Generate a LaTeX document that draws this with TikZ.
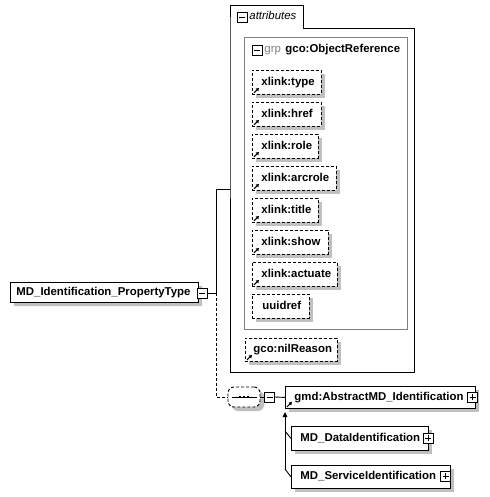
\documentclass[tikz,border=0pt]{standalone}
\usepackage{fontspec}
\setmainfont{Liberation Sans}
\usetikzlibrary{shapes.misc,shadows,arrows.meta,calc}
\definecolor{shgray}{RGB}{192,192,192}
\definecolor{grpgray}{RGB}{128,128,128}
\newcommand\refmark[1]{\draw[refarr] ($(#1.south west)+(2,-2)$) -- ++(5,-5);}
\begin{document}
\begin{tikzpicture}[x=1pt,y=-1pt,line width=0.9pt,
 font=\fontsize{11.4}{13}\selectfont\bfseries,
 shad/.style={drop shadow={shadow xshift=4pt,shadow yshift=-4pt,fill=shgray,opacity=1}},
 attr/.style={draw,dash pattern=on 3pt off 2pt,fill=white,minimum height=24,inner sep=0,anchor=north west,shad},
 elem/.style={draw,fill=white,minimum height=23,inner sep=0,anchor=north west,shad},
 lbl/.style={anchor=west,inner sep=0,text height=8,text depth=2},
 minus/.style={draw,fill=white,minimum size=10,inner sep=0,path picture={\draw ([xshift=2pt]path picture bounding box.west) -- ([xshift=-2pt]path picture bounding box.east);}},
 plus/.style={draw,fill=white,minimum size=10,inner sep=0,path picture={\draw ([xshift=2pt]path picture bounding box.west) -- ([xshift=-2pt]path picture bounding box.east); \draw ([yshift=2pt]path picture bounding box.south) -- ([yshift=-2pt]path picture bounding box.north);}},
 refarr/.style={line width=1pt,-{Triangle[length=3pt,width=3.5pt]}}
]
\useasboundingbox (0,0) rectangle (489,497);

% attributes container
\draw[fill=white] (230,28) -- (230,5) -- (303,5) -- (303,28) -- (414,28) -- (414,372) -- (230,372) -- cycle;
\node[minus] (amin) at (242,17.5) {};
\node[lbl,font=\fontsize{11.4}{13}\selectfont\itshape] (atxt) at (249,17) {attributes};
\coordinate (attrL) at (230,189);

% group box
\draw[grpgray] (244,37) rectangle (407,329);
\node[minus] (gmin) at (257,50) {};
\node[lbl,font=\fontsize{11.4}{13}\selectfont,text=grpgray] (gtxt) at (264,49.5) {grp};
\node[lbl] (gname) at (285,49.5) {gco:ObjectReference};

% attributes
\node[attr,minimum width=69] (type) at (252,70) {};
\node[lbl] (typet) at ([xshift=9pt]type.west) {xlink:type};
\refmark{type}
\node[attr,minimum width=69] (href) at (252,102) {};
\node[lbl] (hreft) at ([xshift=9pt]href.west) {xlink:href};
\refmark{href}
\node[attr,minimum width=66] (role) at (252,134) {};
\node[lbl] (rolet) at ([xshift=9pt]role.west) {xlink:role};
\refmark{role}
\node[attr,minimum width=84] (arcrole) at (252,166) {};
\node[lbl] (arcrolet) at ([xshift=9pt]arcrole.west) {xlink:arcrole};
\refmark{arcrole}
\node[attr,minimum width=66] (title) at (252,198) {};
\node[lbl] (titlet) at ([xshift=9pt]title.west) {xlink:title};
\refmark{title}
\node[attr,minimum width=76] (show) at (252,230) {};
\node[lbl] (showt) at ([xshift=9pt]show.west) {xlink:show};
\refmark{show}
\node[attr,minimum width=85] (actuate) at (252,262) {};
\node[lbl] (actuatet) at ([xshift=9pt]actuate.west) {xlink:actuate};
\refmark{actuate}
\node[attr,minimum width=57] (uuid) at (252,294) {};
\node[lbl] (uuidt) at ([xshift=10pt]uuid.west) {uuidref};
\node[attr,minimum width=92,minimum height=23] (nil) at (245,338) {};
\node[lbl] (nilt) at ([xshift=8pt]nil.west) {gco:nilReason};
\refmark{nil}

% main element
\node[draw,fill=white,chamfered rectangle,chamfered rectangle corners={north west,south west},
      chamfered rectangle xsep=3.5pt,chamfered rectangle ysep=3.5pt,
      minimum width=188,minimum height=20,inner sep=0,shad] (main) at (104,292) {};
\node[lbl] (maint) at (16,292) {MD\_Identification\_PropertyType};
\node[minus] (mmin) at (202,293) {};

% sequence
\node[draw,dash pattern=on 3pt off 2pt,fill=white,rectangle,rounded corners=6pt,
      minimum width=32,minimum height=20,inner sep=0,shad] (seq) at (244,397) {};
\draw[line width=0.9pt] (232,397) -- (257,397);
\foreach \px in {240,244,248} \fill (\px-1.4,397-1.4) rectangle (\px+1.4,397+1.4);
\node[minus] (smin) at (269.5,397) {};

% elements
\node[elem,minimum width=190,minimum height=22] (abs) at (285,386) {};
\node[lbl] (abst) at (294,397) {gmd:AbstractMD\_Identification};
\refmark{abs}
\node[plus] (absp) at (472.5,397) {};
\node[elem,minimum width=137,minimum height=24] (data) at (291,426) {};
\node[lbl] (datat) at (300,438) {MD\_DataIdentification};
\node[plus] (datap) at (428,438) {};
\node[elem,minimum width=159,minimum height=23] (serv) at (291,465) {};
\node[lbl] (servt) at (300,476.5) {MD\_ServiceIdentification};
\node[plus] (servp) at (445.5,476) {};

% connectors
\coordinate (j) at (216,293);
\draw (mmin.east) -- (j) |- (attrL);
\draw[dash pattern=on 3pt off 2pt] (j) |- (seq.west);
\draw (seq.east) -- (smin.west);
\draw (smin.east) -- (abs.west);
\coordinate (vb) at (285,469);
\coordinate (vt) at (285,412);
\draw[-{Triangle[length=5pt,width=4.5pt]}] (vb) -- (vt);
\coordinate (d1) at (285,431);
\coordinate (d2) at (285,469);
\draw (d1) -- (data.west);
\draw (d2) -- (serv.west);
\end{tikzpicture}
\end{document}
